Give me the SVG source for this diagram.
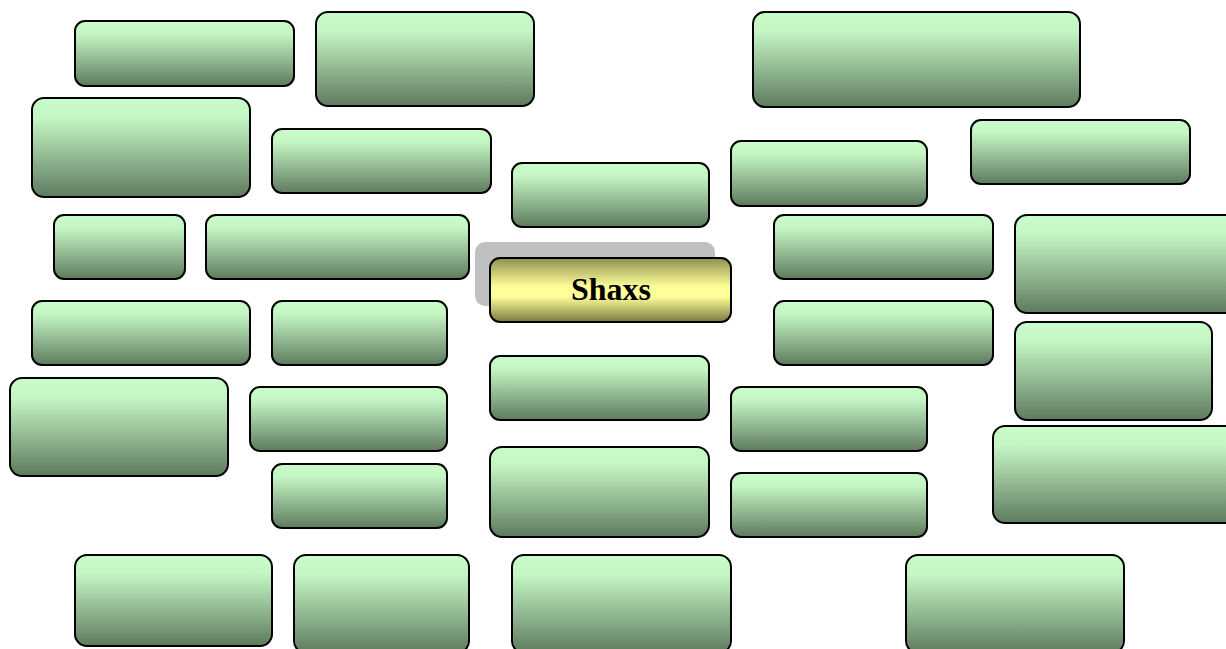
<svg xmlns="http://www.w3.org/2000/svg" width="1226" height="649" viewBox="0 0 1226 649">
<defs>
<linearGradient id="g" x1="0" y1="0" x2="0" y2="1">
<stop offset="0" stop-color="#c8fcc8"/>
<stop offset="0.2" stop-color="#c4f6c4"/>
<stop offset="0.55" stop-color="#98c098"/>
<stop offset="1" stop-color="#5e7a5e"/>
</linearGradient>
<linearGradient id="y" x1="0" y1="0" x2="0" y2="1">
<stop offset="0" stop-color="#8e8e50"/>
<stop offset="0.45" stop-color="#ffff99"/>
<stop offset="0.6" stop-color="#ffff99"/>
<stop offset="1" stop-color="#7a7a42"/>
</linearGradient>
</defs>
<style>
.n{fill:url(#g);stroke:#000;stroke-width:2}
.c{fill:url(#y);stroke:#000;stroke-width:2}
.s{fill:#c0c0c0}
.t{font-family:"Liberation Serif",serif;font-weight:bold;font-size:32px;fill:#000}
</style>
<rect width="1226" height="649" fill="#fff"/>
<g id="connectors"></g>
<g id="n1"><rect class="n" x="75" y="21" width="219" height="65" rx="10"/></g>
<g id="n2"><rect class="n" x="316" y="12" width="218" height="94" rx="12"/></g>
<g id="n3"><rect class="n" x="32" y="98" width="218" height="99" rx="12"/></g>
<g id="n4"><rect class="n" x="272" y="129" width="219" height="64" rx="10"/></g>
<g id="n5"><rect class="n" x="512" y="163" width="197" height="64" rx="10"/></g>
<g id="n6"><rect class="n" x="753" y="12" width="327" height="95" rx="12"/></g>
<g id="n7"><rect class="n" x="731" y="141" width="196" height="65" rx="10"/></g>
<g id="n8"><rect class="n" x="971" y="120" width="219" height="64" rx="10"/></g>
<g id="n9"><rect class="n" x="54" y="215" width="131" height="64" rx="10"/></g>
<g id="n10"><rect class="n" x="206" y="215" width="263" height="64" rx="10"/></g>
<g id="n11"><rect class="n" x="774" y="215" width="219" height="64" rx="10"/></g>
<g id="n12"><rect class="n" x="1015" y="215" width="222" height="98" rx="12"/></g>
<g id="center">
<rect class="s" x="475" y="242" width="240" height="64" rx="10"/>
<rect class="c" x="490" y="258" width="241" height="64" rx="10"/>
<text class="t" x="611" y="300" text-anchor="middle">Shaxs</text>
</g>
<g id="n15"><rect class="n" x="32" y="301" width="218" height="64" rx="10"/></g>
<g id="n16"><rect class="n" x="272" y="301" width="175" height="64" rx="10"/></g>
<g id="n17"><rect class="n" x="774" y="301" width="219" height="64" rx="10"/></g>
<g id="n18"><rect class="n" x="1015" y="322" width="197" height="98" rx="12"/></g>
<g id="n19"><rect class="n" x="10" y="378" width="218" height="98" rx="12"/></g>
<g id="n20"><rect class="n" x="250" y="387" width="197" height="64" rx="10"/></g>
<g id="n21"><rect class="n" x="490" y="356" width="219" height="64" rx="10"/></g>
<g id="n22"><rect class="n" x="731" y="387" width="196" height="64" rx="10"/></g>
<g id="n23"><rect class="n" x="993" y="426" width="244" height="97" rx="12"/></g>
<g id="n24"><rect class="n" x="272" y="464" width="175" height="64" rx="10"/></g>
<g id="n25"><rect class="n" x="490" y="447" width="219" height="90" rx="12"/></g>
<g id="n26"><rect class="n" x="731" y="473" width="196" height="64" rx="10"/></g>
<g id="n27"><rect class="n" x="75" y="555" width="197" height="91" rx="12"/></g>
<g id="n28"><rect class="n" x="294" y="555" width="175" height="98" rx="12"/></g>
<g id="n29"><rect class="n" x="512" y="555" width="219" height="98" rx="12"/></g>
<g id="n30"><rect class="n" x="906" y="555" width="218" height="98" rx="12"/></g>
</svg>
